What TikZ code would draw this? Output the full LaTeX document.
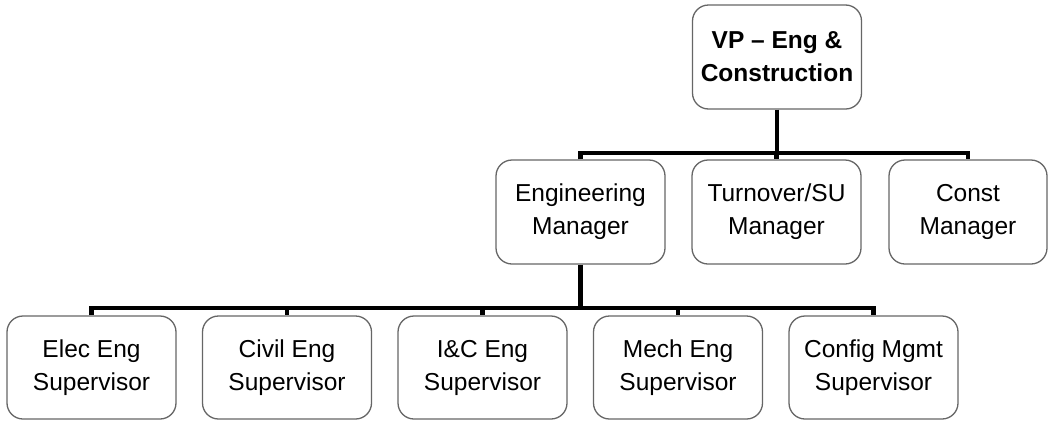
\documentclass[tikz,border=0pt]{standalone}
\usepackage{fontspec}
\setmainfont{Liberation Sans}
\usetikzlibrary{positioning}

\begin{document}
\begin{tikzpicture}[x=1pt, y=-1pt,
    box/.style={draw=black!60, line width=1.3pt, rounded corners=16pt, fill=white,
        minimum width=169pt, minimum height=104pt, inner sep=0pt, align=center,
        font=\fontsize{24.5}{33}\selectfont},
    link/.style={line width=4.5pt, line join=miter}]

\useasboundingbox (0,0) rectangle (1048,421);

% connectors first, boxes on top
\coordinate (bar-top) at (777,153);
\coordinate (bar-eng) at (580.5,308);

\node[box, font=\fontsize{24.5}{33}\selectfont\bfseries] (vp) at (777,57) {VP -- Eng \&\\Construction};

\node[box] (eng) at (580.5,212) {Engineering\\Manager};
\node[box] (turn) at (776.5,212) {Turnover/SU\\Manager};
\node[box, minimum width=158pt] (const) at (968,212) {Const\\Manager};

\node[box, minimum height=103pt] (elec) at (91.5,367.5) {Elec Eng\\Supervisor};
\node[box, minimum height=103pt] (civil) at (287,367.5) {Civil Eng\\Supervisor};
\node[box, minimum height=103pt] (ic) at (482.5,367.5) {I\&C Eng\\Supervisor};
\node[box, minimum height=103pt] (mech) at (678,367.5) {Mech Eng\\Supervisor};
\node[box, minimum height=103pt] (config) at (873.5,367.5) {Config Mgmt\\Supervisor};

% top level
\draw[link] (vp.south) -- (bar-top);
\draw[link] (eng.north) |- (bar-top) -| (const.north);
\draw[link] (bar-top -| turn.north) -- (turn.north);

% engineering
\draw[link] (eng.south) -- (bar-eng);
\draw[link] (elec.north) |- (bar-eng) -| (config.north);
\draw[link] (bar-eng -| civil.north) -- (civil.north);
\draw[link] (bar-eng -| ic.north) -- (ic.north);
\draw[link] (bar-eng -| mech.north) -- (mech.north);

\end{tikzpicture}
\end{document}
